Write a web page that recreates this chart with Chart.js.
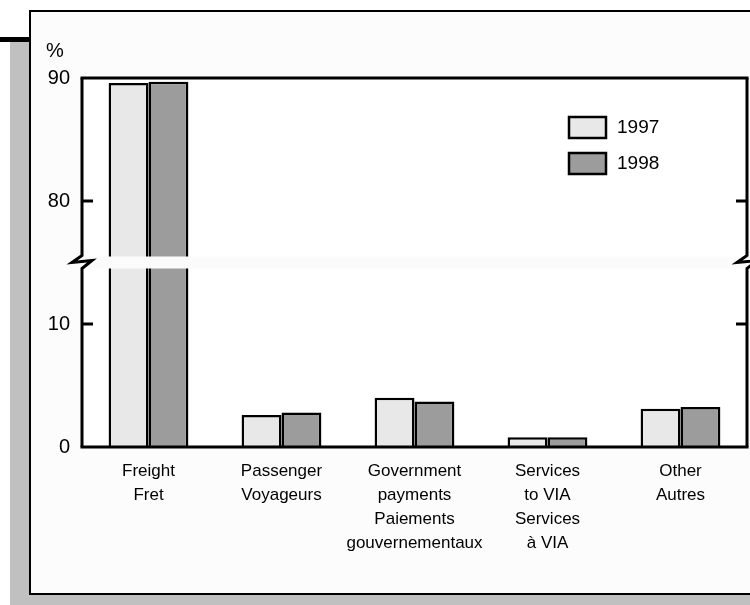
<!DOCTYPE html>
<html>
<head>
<meta charset="utf-8">
<script src="https://cdn.jsdelivr.net/npm/chart.js@4/dist/chart.umd.min.js"></script>
<style>
  html, body { margin: 0; padding: 0; background: #fff; }
  #wrap { width: 750px; height: 605px; }
</style>
</head>
<body>
<div id="wrap"><canvas id="myChart" width="750" height="605"></canvas></div>
<script>
// categories (English / French)
const categories = [
    ['Freight', 'Fret'],
    ['Passenger', 'Voyageurs'],
    ['Government', 'payments', 'Paiements', 'gouvernementaux'],
    ['Services', 'to VIA', 'Services', 'à VIA'],
    ['Other', 'Autres']
];
const years = ['1997', '1998'];
const values1997 = [89.6, 2.6, 4.0, 0.8, 3.1];
const values1998 = [89.7, 2.8, 3.7, 0.8, 3.25];
const yTicks = [0, 10, 80, 90];

// broken axis: 0-15 shown as is, 75-90 shifted down by 60
const GAP = 60;
const BREAK = 15;
const toAxis = v => (v > 50 ? v - GAP : v);
const fromAxis = v => (v > BREAK ? v + GAP : v);

const colors = ['#e8e8e8', '#9c9c9c'];
const FONT = '"Liberation Sans", Arial, sans-serif';

const frame = {
    id: 'frame',
    beforeDraw(chart) {
        const c = chart.ctx, a = chart.chartArea;
        c.save();
        c.fillStyle = '#fff';
        c.fillRect(0, 0, 750, 605);
        // shadow
        c.fillStyle = '#c0c0c0';
        c.fillRect(10, 42, 20, 563);
        c.fillRect(10, 594, 740, 11);
        c.fillStyle = '#000';
        c.fillRect(0, 37, 30, 5);
        // outer panel
        c.fillStyle = '#fcfcfc';
        c.fillRect(30, 11, 720, 583);
        c.strokeStyle = '#000';
        c.lineWidth = 2;
        c.strokeRect(30, 11, 730, 583);
        // plot area
        c.fillStyle = '#fff';
        c.fillRect(a.left, a.top, a.right - a.left, a.bottom - a.top);
        // "%"
        c.fillStyle = '#000';
        c.font = '20px ' + FONT;
        c.textBaseline = 'middle';
        c.textAlign = 'left';
        c.fillText('%', 46, 51);
        c.restore();
    },
    afterDraw(chart) {
        const c = chart.ctx, a = chart.chartArea, y = chart.scales.y;
        const yb = y.getPixelForValue(BREAK);
        c.save();
        // break band
        c.fillStyle = '#fbfbfb';
        c.fillRect(a.left, yb - 6, a.right - a.left, 12);
        c.strokeStyle = '#000';
        c.lineWidth = 3;
        c.lineCap = 'square';
        // top and bottom lines
        c.beginPath();
        c.moveTo(a.left, a.top); c.lineTo(a.right, a.top);
        c.moveTo(a.left, a.bottom); c.lineTo(a.right, a.bottom);
        c.stroke();
        // side axes with zig-zag
        c.lineCap = 'butt';
        [a.left, a.right].forEach(x => {
            c.beginPath();
            c.moveTo(x, a.top);
            c.lineTo(x, yb - 7);
            c.lineTo(x - 10, yb);
            c.lineTo(x + 10, yb - 2);
            c.lineTo(x, yb + 6);
            c.lineTo(x, a.bottom);
            c.stroke();
        });
        // inner ticks
        c.beginPath();
        [10, 80].forEach(v => {
            const py = y.getPixelForValue(toAxis(v));
            c.moveTo(a.left, py); c.lineTo(a.left + 11, py);
            c.moveTo(a.right, py); c.lineTo(a.right - 11, py);
        });
        c.stroke();
        // legend
        c.lineWidth = 2.5;
        c.font = '19px ' + FONT;
        c.textBaseline = 'middle';
        c.textAlign = 'left';
        years.forEach((yr, i) => {
            const bx = a.right - 178, by = a.top + 39 + i * 36;
            c.fillStyle = colors[i];
            c.fillRect(bx, by, 37, 21);
            c.strokeRect(bx, by, 37, 21);
            c.fillStyle = '#000';
            c.fillText(yr, bx + 48, by + 11);
        });
        c.restore();
    }
};

const ctx = document.getElementById('myChart').getContext('2d');
const chart = new Chart(ctx, {
    type: 'bar',
    data: {
        labels: categories,
        datasets: [{
            label: years[0],
            data: values1997.map(toAxis),
            backgroundColor: colors[0],
            borderColor: '#000',
            borderWidth: 2.5
        }, {
            label: years[1],
            data: values1998.map(toAxis),
            backgroundColor: colors[1],
            borderColor: '#000',
            borderWidth: 2.5
        }]
    },
    options: {
        responsive: false,
        animation: false,
        events: [],
        layout: { padding: { top: 78, right: 3, left: 0, bottom: 0 } },
        plugins: { legend: { display: false }, tooltip: { enabled: false } },
        datasets: { bar: { categoryPercentage: 0.6, barPercentage: 1 } },
        scales: {
            x: {
                grid: { display: false, drawTicks: false },
                border: { display: false },
                ticks: {
                    color: '#000',
                    padding: 12,
                    maxRotation: 0,
                    autoSkip: false,
                    font: { family: FONT, size: 17, lineHeight: 1.41 }
                },
                afterFit: s => { s.height = 158; }
            },
            y: {
                min: 0,
                max: 30,
                grid: { display: false, drawTicks: false },
                border: { display: false },
                afterBuildTicks: s => { s.ticks = yTicks.map(v => ({ value: toAxis(v) })); },
                ticks: {
                    color: '#000',
                    padding: 12,
                    font: { family: FONT, size: 20 },
                    callback: v => String(fromAxis(v))
                },
                afterFit: s => { s.width = 82; }
            }
        }
    },
    plugins: [frame]
});
</script>
</body>
</html>
